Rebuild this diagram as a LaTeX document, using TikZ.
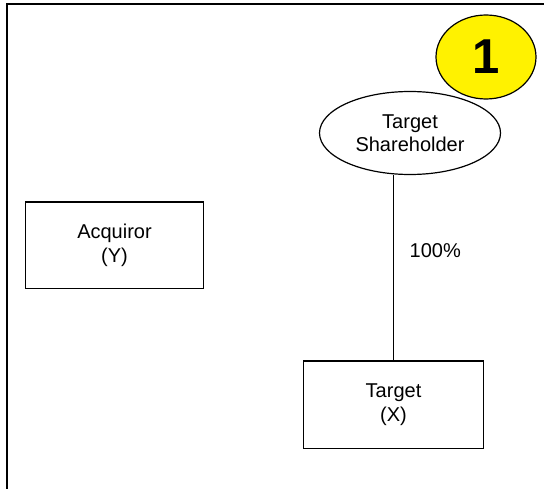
\documentclass[tikz,border=0pt]{standalone}
\usepackage{fontspec}
\setmainfont{Liberation Sans}
\usetikzlibrary{shapes.geometric}
\tikzset{
  txt/.style={font=\fontsize{20bp}{23.5bp}\selectfont, align=center},
  boxnode/.style={txt, draw=black, line width=1.2bp, rectangle, inner sep=0pt},
  ovalnode/.style={txt, draw=black, line width=1.2bp, ellipse, inner sep=0pt},
  badge/.style={draw=black, line width=1.2bp, fill=yellow, ellipse, inner sep=0pt,
    font=\fontsize{49bp}{49bp}\selectfont\bfseries},
  link/.style={draw=black, line width=1.2bp},
  frame/.style={draw=black, line width=2.2bp}
}
\begin{document}
\begin{tikzpicture}[x=1bp, y=-1bp]
\useasboundingbox (0,0) rectangle (544,489);
\fill[white] (0,0) rectangle (544,489);
\draw[frame] (7,495) -- (7,4) -- (550,4);

\node[boxnode, minimum width=178.4bp, minimum height=86.7bp] (acq) at (114.5,245.3) {Acquiror\\(Y)};
\node[boxnode, minimum width=179.7bp, minimum height=87.6bp] (tgt) at (393.5,404.8) {Target\\(X)};
\node[ovalnode, minimum width=181bp, minimum height=83bp] (ts) at (410,133) {Target\\Shareholder};
\node[badge, minimum width=100bp, minimum height=84bp] (one) at (486,57) {\raisebox{-3.5bp}{1}};

\draw[link] (tgt.north) -- (tgt.north |- ts.south);
\node[txt, inner sep=0pt] (pct) at (435.3,251) {100\%};
\end{tikzpicture}
\end{document}
